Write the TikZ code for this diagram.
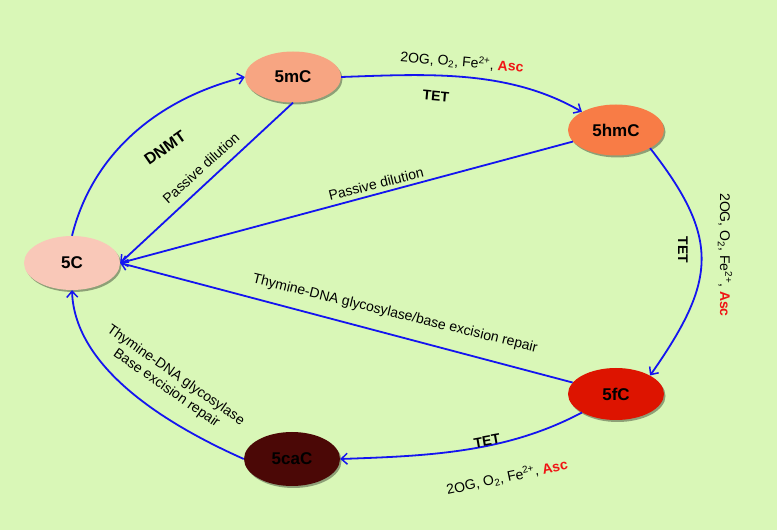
\documentclass[tikz,border=0pt]{standalone}
\usepackage{fontspec}
\setmainfont{Liberation Sans}
\usetikzlibrary{shapes.geometric,arrows.meta,shadows}
\definecolor{bgc}{RGB}{217,247,183}
\definecolor{edgec}{RGB}{20,20,240}
\definecolor{cmC}{RGB}{247,165,130}
\definecolor{chmC}{RGB}{248,124,70}
\definecolor{cC}{RGB}{249,200,184}
\definecolor{cfC}{RGB}{221,20,0}
\definecolor{ccaC}{RGB}{75,8,6}
\definecolor{ascred}{RGB}{240,20,20}
\tikzset{
  base/.style={ellipse, inner sep=0pt, minimum width=96pt, minimum height=51pt,
    font=\fontsize{17}{19}\selectfont\bfseries,
    drop shadow={shadow xshift=1.5pt, shadow yshift=-2pt, opacity=0.35, fill=black}},
  conn/.style={draw=edgec, line width=1.8pt, -{Straight Barb[length=6pt,width=11pt,line width=1.5pt]}},
  lbl/.style={font=\fontsize{14}{16}\selectfont, inner sep=0pt},
  blbl/.style={font=\fontsize{14}{16}\selectfont\bfseries, inner sep=0pt},
}
\newcommand{\cofac}{2OG, O\textsubscript{2}, Fe\textsuperscript{2+}, \textcolor{ascred}{\bfseries Asc}}
\begin{document}
\begin{tikzpicture}[x=1pt,y=1pt]
\fill[bgc] (0,0) rectangle (777,530);
\useasboundingbox (0,0) rectangle (777,530);

\node[base, fill=cmC] (m5) at (293,453) {5mC};
\node[base, fill=chmC] (h5) at (616,400) {5hmC};
\node[base, fill=cC, minimum height=54pt] (c5) at (72,267) {5C};
\node[base, fill=cfC, minimum height=52pt] (f5) at (616,136) {5fC};
\node[base, fill=ccaC, minimum height=54pt] (ca5) at (292,71) {5caC};

% cycle
\draw[conn] (c5.north) to[out=76, in=194, looseness=0.95] (m5.west);
\draw[conn] (m5.east) to[out=2, in=150, looseness=0.9] (h5.north west);
\draw[conn] (h5.south east) to[out=-52, in=55, looseness=1.3] (f5.north east);
\draw[conn] (f5.south west) to[out=208, in=2, looseness=0.9] (ca5.east);
\draw[conn] (ca5.west) to[out=156, in=-88, looseness=0.85] (c5.south);

% straight returns
\draw[conn] (m5.south) -- (c5.east);
\draw[conn] (h5) -- (c5.east);
\draw[conn] (f5) -- (c5.east);

% labels
\node[lbl, rotate=-5] (t1) at (462,468) {\cofac};
\node[blbl, rotate=-5] (tet1) at (436,434) {TET};
\node[lbl, rotate=-90] (t2) at (725,275) {\cofac};
\node[blbl, rotate=-90] (tet2) at (683,280) {TET};
\node[blbl, rotate=10] (tet3) at (487,89) {TET};
\node[lbl, rotate=12] (t3) at (507,53) {\cofac};
\node[font=\fontsize{16}{18}\selectfont\bfseries, inner sep=0pt, rotate=35] (dnmt) at (165,382) {DNMT};
\node[lbl, rotate=42] (pd1) at (201,362) {Passive dilution};
\node[lbl, rotate=14] (pd2) at (376,346) {Passive dilution};
\node[lbl, rotate=-13.7] (tdg1) at (395,216) {Thymine-DNA glycosylase/base excision repair};
\node[lbl, rotate=-35, align=center] (tdg2) at (171,148) {Thymine-DNA glycosylase\\Base excision repair};
\end{tikzpicture}
\end{document}
